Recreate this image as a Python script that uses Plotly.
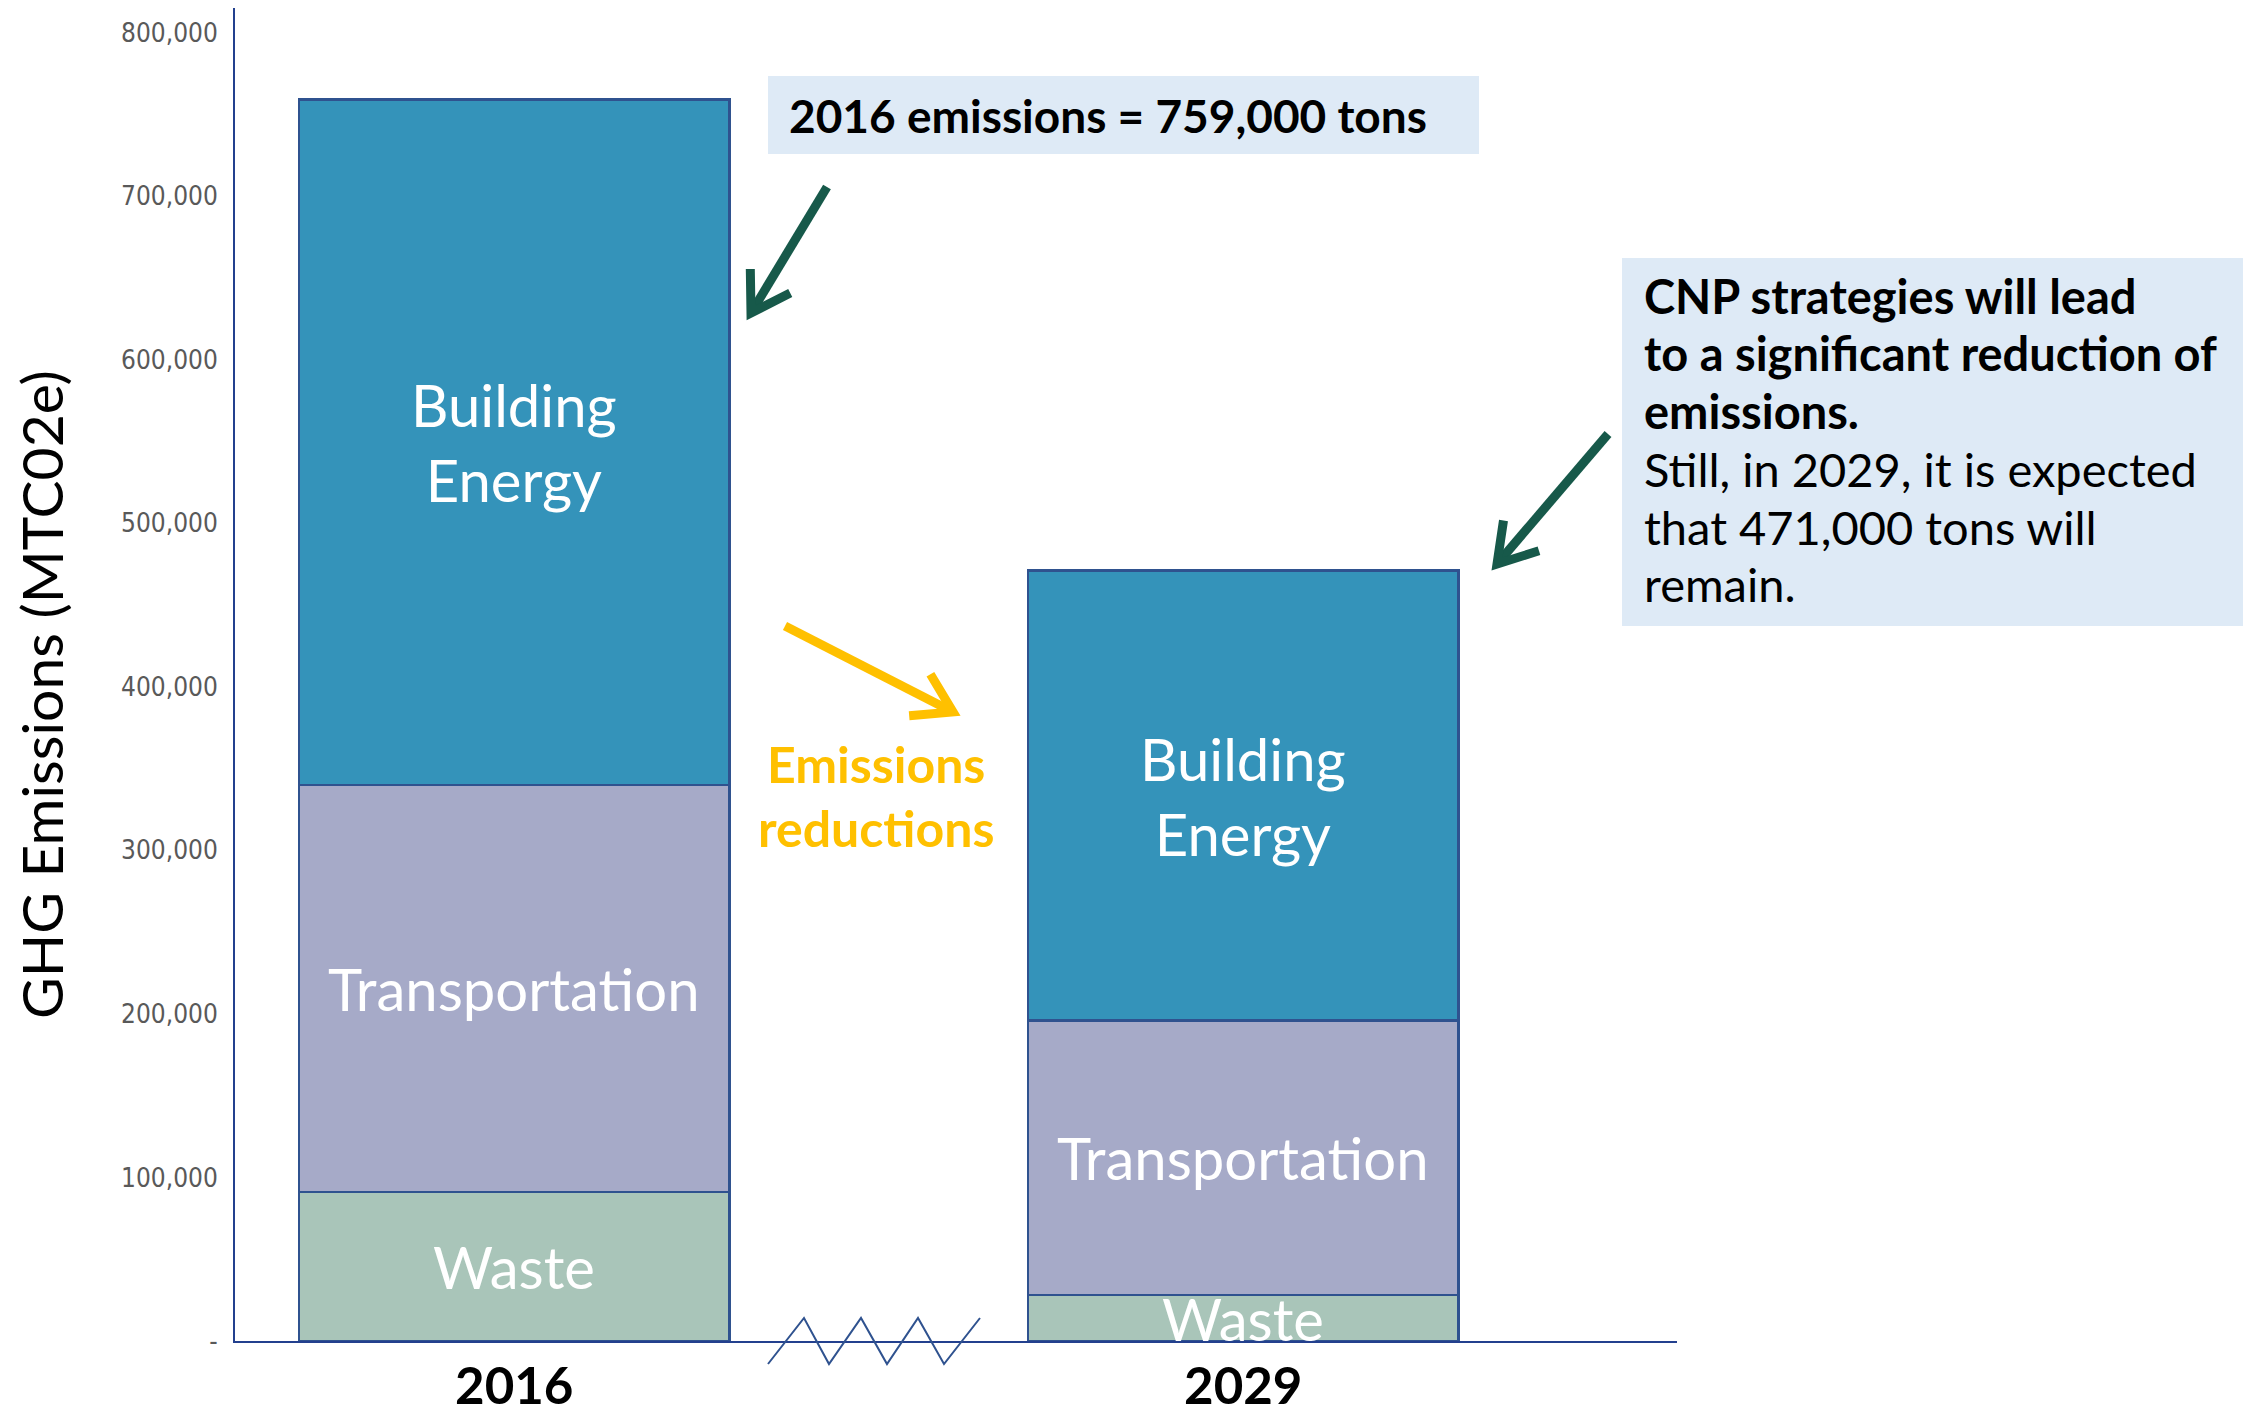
import math
import plotly.graph_objects as go

# ---------------- data ----------------
years = ["2016", "2029"]
waste = [91000, 28000]
transportation = [249000, 168000]
building_energy = [419000, 275000]

y_tickvals = [0, 100000, 200000, 300000, 400000, 500000, 600000, 700000, 800000]
y_ticktext = ["-", "100,000", "200,000", "300,000", "400,000", "500,000",
              "600,000", "700,000", "800,000"]

series = [
    ("Waste", waste, "#A9C5B9"),
    ("Transportation", transportation, "#A6AAC8"),
    ("Building Energy", building_energy, "#3493BA"),
]
segment_labels = {"Waste": "Waste", "Transportation": "Transportation",
                  "Building Energy": "Building<br>Energy"}

# ---------------- layout geometry ----------------
# page body has an 8px margin, so the figure is drawn 8px right/down
OFF = 8
W, H = 2251 - OFF, 1418 - OFF
# plot area in reference-screen pixels
RL, RR, RT, RB = 235, 1677, 8, 1341
L, R, T, B = RL - OFF, RR - OFF, RT - OFF, RB - OFF
PW, PH = R - L, B - T


def px(x):
    """reference screen x -> paper"""
    return (x - OFF - L) / PW


def py(y):
    """reference screen y -> paper"""
    return (B - (y - OFF)) / PH


fig = go.Figure()
for name, vals, col in series:
    fig.add_trace(go.Bar(
        x=years, y=vals, name=name, width=0.591,
        marker=dict(color=col, line=dict(color="#2F528F", width=2.5)),
        hoverinfo="x+y+name",
    ))

# segment labels centred in each stacked segment (category index as x)
for i, yr in enumerate(years):
    base = 0
    for name, vals, col in series:
        mid = base + vals[i] / 2
        base += vals[i]
        fig.add_annotation(
            x=i, y=mid, xref="x", yref="y", text=segment_labels[name],
            showarrow=False, font=dict(family="Lato", size=58, color="white"),
        )

DARK_BLUE = "#2F528F"
AXIS_BLUE = "#23408E"
GREEN = "#17594A"
YELLOW = "#FFC000"

shapes = []


def arrow(x0, y0, x1, y1, color, width, head=44, ang=32):
    shapes.append(dict(type="line", xref="paper", yref="paper",
                       x0=px(x0), y0=py(y0), x1=px(x1), y1=py(y1),
                       line=dict(color=color, width=width)))
    dx, dy = x0 - x1, y0 - y1
    n = math.hypot(dx, dy)
    ux, uy = dx / n, dy / n
    pts = []
    for s in (1, -1):
        a = math.radians(ang * s)
        rx = ux * math.cos(a) - uy * math.sin(a)
        ry = ux * math.sin(a) + uy * math.cos(a)
        pts.append((x1 + rx * head, y1 + ry * head))
    path = "M {} {} L {} {} L {} {}".format(
        px(pts[0][0]), py(pts[0][1]), px(x1), py(y1), px(pts[1][0]), py(pts[1][1]))
    shapes.append(dict(type="path", xref="paper", yref="paper", path=path,
                       line=dict(color=color, width=width)))


# info boxes
shapes.append(dict(type="rect", xref="paper", yref="paper",
                   x0=px(768), x1=px(1479), y0=py(154), y1=py(76),
                   fillcolor="#DEEAF6", line=dict(width=0), layer="below"))
shapes.append(dict(type="rect", xref="paper", yref="paper",
                   x0=px(1622), x1=px(2245), y0=py(626), y1=py(258),
                   fillcolor="#DEEAF6", line=dict(width=0), layer="below"))

arrow(827, 187, 751, 313, GREEN, 9)
arrow(1608, 434, 1497, 564, GREEN, 9)
arrow(785, 626, 953, 712, YELLOW, 9)

# axis-break zigzag
zz_x = [768, 804, 829, 861, 887, 918, 944, 980]
zz_y = [1364, 1318, 1364, 1318, 1364, 1318, 1364, 1318]
zpath = "M " + " L ".join("{} {}".format(px(a), py(b)) for a, b in zip(zz_x, zz_y))
shapes.append(dict(type="path", xref="paper", yref="paper", path=zpath,
                   line=dict(color=DARK_BLUE, width=2)))

fig.update_layout(shapes=shapes)

# y axis title
fig.add_annotation(xref="paper", yref="paper", x=px(41), y=py(695),
                   xanchor="center", yanchor="middle", showarrow=False,
                   textangle=-90, text="GHG Emissions (MTC02e)",
                   font=dict(family="Lato", size=57, color="black"))

# annotation texts
fig.add_annotation(xref="paper", yref="paper", x=px(787), y=py(115),
                   xanchor="left", yanchor="middle", showarrow=False,
                   text="<b>2016 emissions = 759,000 tons</b>",
                   font=dict(family="Lato", size=46, color="black"))

box_lines = [
    ("<b>CNP strategies will lead</b>", 296),
    ("<b>to a significant reduction of</b>", 353),
    ("<b>emissions.</b>", 411),
    ("Still, in 2029, it is expected", 469),
    ("that 471,000 tons will", 527),
    ("remain.", 584),
]
for txt, yy in box_lines:
    fig.add_annotation(xref="paper", yref="paper", x=px(1642), y=py(yy),
                       xanchor="left", yanchor="middle", showarrow=False,
                       text=txt, font=dict(family="Lato", size=47, color="black"))

for txt, yy in [("Emissions", 764), ("reductions", 828)]:
    fig.add_annotation(xref="paper", yref="paper", x=px(876), y=py(yy),
                       xanchor="center", yanchor="middle", showarrow=False,
                       text="<b>" + txt + "</b>",
                       font=dict(family="Lato", size=50, color=YELLOW))

fig.update_layout(
    width=W, height=H,
    margin=dict(l=L, r=W - R, t=T, b=H - B, pad=0),
    barmode="stack", showlegend=False,
    plot_bgcolor="white", paper_bgcolor="white",
    xaxis=dict(type="category", range=[-0.383, 1.595], showgrid=False,
               automargin=False,
               showline=True, linecolor=AXIS_BLUE, linewidth=2,
               ticks="", ticklabelstandoff=0,
               tickfont=dict(family="Lato", size=51, color="black", weight="bold")),
    yaxis=dict(range=[0, 815000], tickvals=y_tickvals, ticktext=y_ticktext,
               automargin=False,
               showgrid=False, zeroline=False, showline=True,
               linecolor=AXIS_BLUE, linewidth=2, ticks="", ticklabelstandoff=10,
               tickfont=dict(family="Liberation Sans Narrow, DejaVu Sans Condensed, Lato",
                             size=26, color="#595959")),
)

fig.write_html("out.html")
